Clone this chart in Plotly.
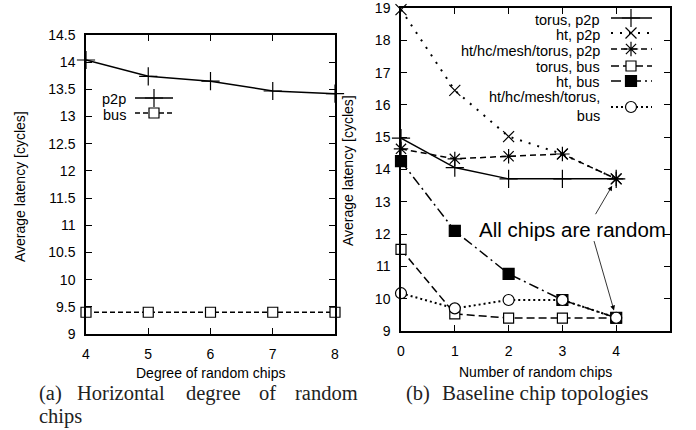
import plotly.graph_objects as go

# ---------------- data ----------------
degree_x = [4, 5, 6, 7, 8]
degree_p2p = [14.04, 13.74, 13.65, 13.47, 13.42]
degree_bus = [9.4, 9.4, 9.4, 9.4, 9.4]

random_x = [0, 1, 2, 3, 4]
torus_p2p = [14.97, 14.06, 13.71, 13.71, 13.71]
ht_p2p = [18.95, 16.45, 15.02, 14.48, 13.71]
all_p2p = [14.64, 14.33, 14.41, 14.48, 13.71]
torus_bus = [11.53, 9.53, 9.4, 9.4, 9.4]
ht_bus = [14.26, 12.1, 10.77, 9.96, 9.41]
all_bus = [10.17, 9.7, 9.96, 9.96, 9.41]

left_yticks = [9, 9.5, 10, 10.5, 11, 11.5, 12, 12.5, 13, 13.5, 14, 14.5]
right_yticks = [9, 10, 11, 12, 13, 14, 15, 16, 17, 18, 19]

W, H = 696, 430
SANS = "Liberation Sans, Arial, sans-serif"
SERIF = "Liberation Serif, Times New Roman, serif"


def px(x):
    return x / W


def py(y):
    return 1 - y / H


fig = go.Figure()

left_series = [
    dict(name="p2p", y=degree_p2p, dash="solid", symbol="cross-thin-open", size=13, fill="black"),
    dict(name="bus", y=degree_bus, dash="5px,3px", symbol="square", size=10, fill="white"),
]
right_series = [
    dict(name="torus, p2p", y=torus_p2p, dash="solid", symbol="cross-thin-open", size=13, fill="black", lw=1.5),
    dict(name="ht, p2p", y=ht_p2p, dash="2px,7px", symbol="x-thin-open", size=11, fill="black", lw=2),
    dict(name="ht/hc/mesh/torus, p2p", y=all_p2p, dash="6px,4px", symbol="asterisk-open", size=12, fill="black", lw=1.5),
    dict(name="torus, bus", y=torus_bus, dash="8px,4px", symbol="square", size=10, fill="white", lw=1.5),
    dict(name="ht, bus", y=ht_bus, dash="10px,4px,2px,4px", symbol="square", size=11, fill="black", lw=1.5),
    dict(name="ht/hc/mesh/torus,<br>bus", y=all_bus, dash="2px,3px", symbol="circle", size=11, fill="white", lw=2),
]


def marker_of(s):
    return dict(symbol=s["symbol"], size=s["size"], color=s["fill"],
                line=dict(color="black", width=1.2))


for s in left_series:
    fig.add_trace(go.Scatter(
        x=degree_x, y=s["y"], mode="lines+markers", name=s["name"],
        line=dict(color="black", width=1.5, dash=s["dash"]),
        marker=marker_of(s), cliponaxis=False, showlegend=False,
        xaxis="x", yaxis="y"))

for s in right_series:
    fig.add_trace(go.Scatter(
        x=random_x, y=s["y"], mode="lines+markers", name=s["name"],
        line=dict(color="black", width=s["lw"], dash=s["dash"]),
        marker=marker_of(s), cliponaxis=False, showlegend=False,
        xaxis="x2", yaxis="y2"))

annotations = []

# ---- manual gnuplot-style legends (text right, sample on the right) ----
legend_left = dict(text_x=127, x0=135, x1=173, xm=154, rows_text=[99, 115], rows_line=[98, 113], fs=14.5)
legend_right = dict(text_x=601, x0=611, x1=652, xm=631,
                    rows_text=[20, 35, 51, 67, 82, 107], rows_line=[18, 33, 49, 66, 81, 107], fs=14.5)

for series, lg in ((left_series, legend_left), (right_series, legend_right)):
    for s, ty, ly in zip(series, lg["rows_text"], lg["rows_line"]):
        annotations.append(dict(
            xref="paper", yref="paper", x=px(lg["text_x"]), y=py(ty),
            xanchor="right", yanchor="middle", align="right", showarrow=False,
            borderpad=0, height=None,
            text=s["name"], font=dict(family=SANS, size=lg["fs"], color="black")))
        fig.add_trace(go.Scatter(
            x=[lg["x0"], lg["x1"]], y=[ly, ly], mode="lines",
            line=dict(color="black", width=s.get("lw", 1.5), dash=s["dash"]),
            showlegend=False, hoverinfo="skip", xaxis="x3", yaxis="y3", cliponaxis=False))
        fig.add_trace(go.Scatter(
            x=[lg["xm"]], y=[ly], mode="markers", marker=marker_of(s),
            showlegend=False, hoverinfo="skip", xaxis="x3", yaxis="y3", cliponaxis=False))

# ---- axis titles ----
annotations += [
    dict(xref="paper", yref="paper", x=px(20), y=py(187), text="Average latency [cycles]",
         textangle=-90, showarrow=False, xanchor="center", yanchor="middle",
         font=dict(family=SANS, size=14, color="black")),
    dict(xref="paper", yref="paper", x=px(348), y=py(171), text="Average latency [cycles]",
         textangle=-90, showarrow=False, xanchor="center", yanchor="middle",
         font=dict(family=SANS, size=14, color="black")),
    dict(xref="paper", yref="paper", x=px(210), y=py(373), text="Degree of random chips",
         showarrow=False, xanchor="center", yanchor="middle",
         font=dict(family=SANS, size=14, color="black")),
    dict(xref="paper", yref="paper", x=px(535), y=py(372), text="Number of random chips",
         showarrow=False, xanchor="center", yanchor="middle",
         font=dict(family=SANS, size=14, color="black")),
]

# ---- captions (justified first line of (a)) ----
CAP = 20.5
cap_a_words = [("(a)", 37), ("Horizontal", 75), ("degree", 184), ("of", 257), ("random", 293)]
for w, x in cap_a_words:
    annotations.append(dict(xref="paper", yref="paper", x=px(x), y=py(393), text=w,
                            showarrow=False, xanchor="left", yanchor="middle",
                            font=dict(family=SERIF, size=CAP, color="#222")))
annotations.append(dict(xref="paper", yref="paper", x=px(37), y=py(416), text="chips",
                        showarrow=False, xanchor="left", yanchor="middle",
                        font=dict(family=SERIF, size=CAP, color="#222")))
annotations.append(dict(xref="paper", yref="paper", x=px(404), y=py(393), text="(b)",
                        showarrow=False, xanchor="left", yanchor="middle",
                        font=dict(family=SERIF, size=CAP, color="#222")))
annotations.append(dict(xref="paper", yref="paper", x=px(440), y=py(393), text="Baseline chip topologies",
                        showarrow=False, xanchor="left", yanchor="middle",
                        font=dict(family=SERIF, size=21, color="#222")))

# ---- "All chips are random" note with arrows ----
annotations.append(dict(xref="paper", yref="paper", x=px(572), y=py(229), text="All chips are random",
                        showarrow=False, xanchor="center", yanchor="middle",
                        font=dict(family=SANS, size=20.5, color="black")))
annotations.append(dict(xref="x2", yref="y2", x=random_x[-1], y=torus_p2p[-1], text="",
                        axref="x2", ayref="y2", ax=3.6, ay=12.57, showarrow=True,
                        arrowhead=2, arrowsize=1.2, arrowwidth=0.8, arrowcolor="black", standoff=8))
annotations.append(dict(xref="x2", yref="y2", x=random_x[-1], y=torus_bus[-1], text="",
                        axref="x2", ayref="y2", ax=3.58, ay=11.83, showarrow=True,
                        arrowhead=2, arrowsize=1.2, arrowwidth=0.8, arrowcolor="black", standoff=8))

axis_common = dict(showline=True, linecolor="black", linewidth=1.5, mirror="ticks",
                   ticks="inside", ticklen=6, tickwidth=1, tickcolor="black",
                   showgrid=False, zeroline=False, ticklabeloverflow="allow",
                   tickfont=dict(family=SANS, size=14, color="black"))

fig.update_layout(
    width=W, height=H,
    margin=dict(l=0, r=0, t=0, b=0),
    paper_bgcolor="white", plot_bgcolor="rgba(0,0,0,0)",
    template="none",
    showlegend=False,
    xaxis=dict(domain=[px(86), px(335)], range=[4, 8], tickvals=degree_x,
               ticklabelstandoff=6, anchor="y", **axis_common),
    yaxis=dict(domain=[py(334), py(35)], range=[9, 14.5], tickvals=left_yticks,
               ticklabelstandoff=6, anchor="x", **axis_common),
    xaxis2=dict(domain=[px(401), px(670)], range=[0, 5], tickvals=random_x,
                ticklabelstandoff=6, anchor="y2", **axis_common),
    yaxis2=dict(domain=[py(331), py(8)], range=[9, 19], tickvals=right_yticks,
                ticklabelstandoff=6, anchor="x2", **axis_common),
    xaxis3=dict(domain=[0, 1], range=[0, W], visible=False, anchor="y3", fixedrange=True),
    yaxis3=dict(domain=[0, 1], range=[H, 0], visible=False, anchor="x3", fixedrange=True),
    annotations=annotations,
)

fig.write_html("out.html", config={"displayModeBar": False},
               post_script="document.body.style.margin='0';document.body.style.padding='0';")
